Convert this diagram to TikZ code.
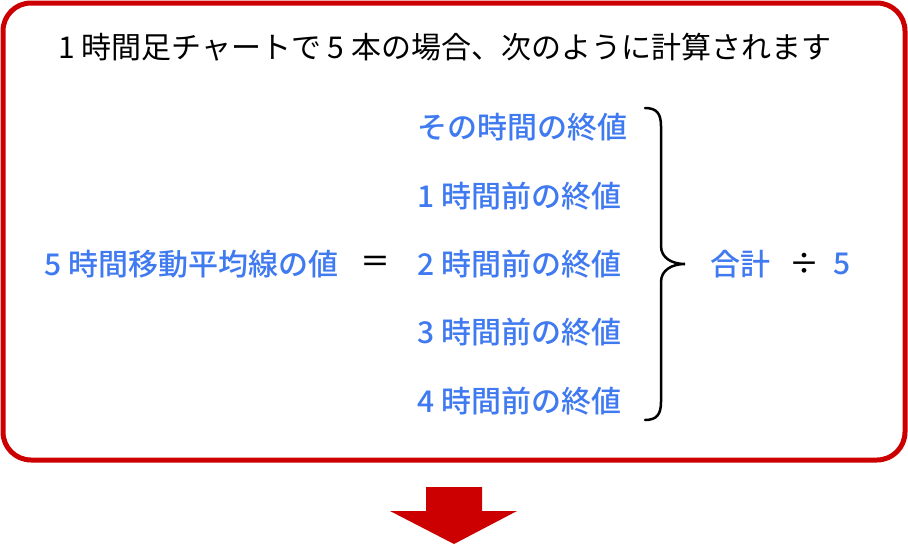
\documentclass[tikz,border=0pt]{standalone}
\usepackage{fontspec}
\setmainfont{Noto Sans CJK JP}
\newfontfamily\jpmed{Noto Sans CJK JP Medium}
\definecolor{boxred}{RGB}{204,0,0}
\definecolor{txtblue}{RGB}{64,122,240}
\begin{document}
\begin{tikzpicture}[x=1pt,y=-1pt,
  title/.style={anchor=west,inner sep=0pt,font=\fontsize{30}{33}\selectfont,text=black},
  bluetxt/.style={anchor=west,inner sep=0pt,font=\jpmed\fontsize{30}{33}\selectfont,text=txtblue},
  blk/.style={anchor=center,inner sep=0pt,font=\jpmed\fontsize{30}{33}\selectfont,text=black}]
\useasboundingbox (0,0) rectangle (908,544);
\draw[boxred,line width=5pt,rounded corners=28pt] (3,3) rectangle (905,460);
\node[title] (ttl) at (58,47) {1 時間足チャートで 5 本の場合、次のように計算されます};
\node[bluetxt] (lhs) at (44,264) {5 時間移動平均線の値};
\node[blk] (eq) at (375,264) {＝};
\node[bluetxt] (r0) at (417,127) {その時間の終値};
\node[bluetxt] (r1) at (417,196) {1 時間前の終値};
\node[bluetxt] (r2) at (417,264) {2 時間前の終値};
\node[bluetxt] (r3) at (417,332) {3 時間前の終値};
\node[bluetxt] (r4) at (417,401) {4 時間前の終値};
\draw[line width=2.5pt,line cap=round]
  (645,108) .. controls (657,108) and (661,114) .. (661,126) -- (661,246)
  .. controls (661,258) and (672,264) .. (685,264)
  .. controls (672,264) and (661,270) .. (661,282) -- (661,402)
  .. controls (661,414) and (657,420) .. (645,420);
\node[bluetxt] (sum) at (710,264) {合計};
\node[blk] (div) at (804,264) {÷};
\node[bluetxt] (five) at (833,264) {5};
\fill[boxred] (426,487) -- (482,487) -- (482,511) -- (517,511) -- (454,544) -- (390,511) -- (426,511) -- cycle;
\end{tikzpicture}
\end{document}
